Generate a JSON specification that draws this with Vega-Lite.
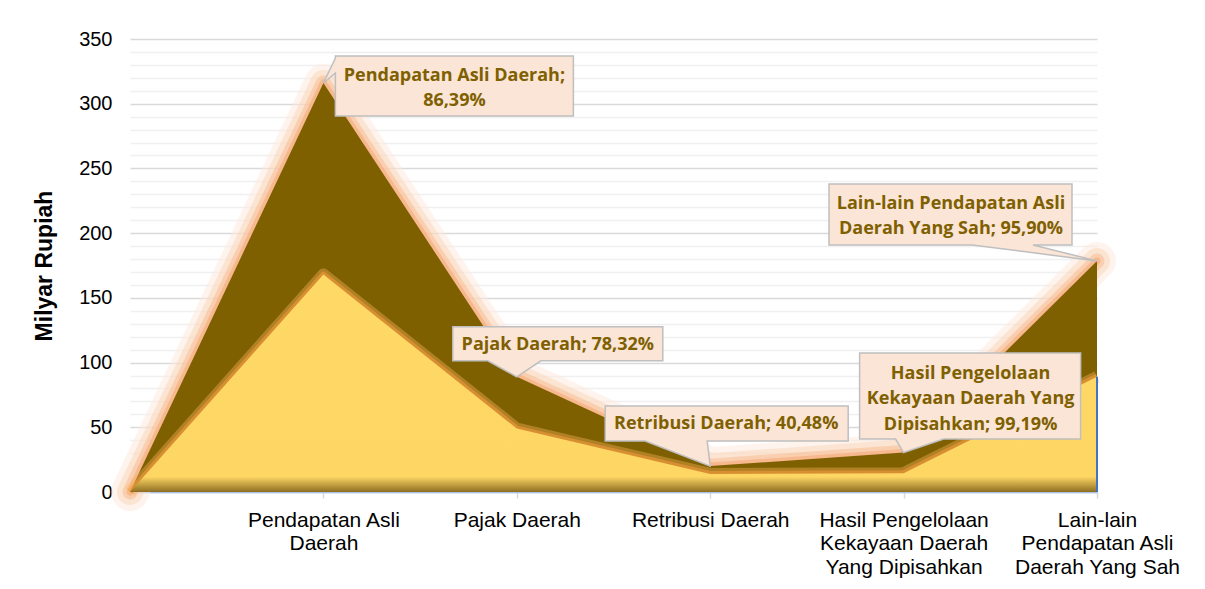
{
  "$schema": "https://vega.github.io/schema/vega-lite/v6.json",
  "width": 967,
  "height": 453,
  "autosize": "none",
  "padding": {"left": 130, "top": 39, "right": 108, "bottom": 97},
  "background": "white",
  "config": {
    "view": {"stroke": null},
    "font": "Liberation Sans"
  },
  "data": {
    "values": [
      {"kategori": " ", "target": 0, "realisasi": 0, "callout": ""},
      {"kategori": "Pendapatan Asli Daerah", "target": 316, "realisasi": 168, "callout": "Pendapatan Asli Daerah;\n86,39%"},
      {"kategori": "Pajak Daerah", "target": 89, "realisasi": 49, "callout": "Pajak Daerah; 78,32%"},
      {"kategori": "Retribusi Daerah", "target": 20, "realisasi": 14, "callout": "Retribusi Daerah; 40,48%"},
      {"kategori": "Hasil Pengelolaan Kekayaan Daerah Yang Dipisahkan", "target": 30.5, "realisasi": 14.5, "callout": "Hasil Pengelolaan\nKekayaan Daerah Yang\nDipisahkan; 99,19%"},
      {"kategori": "Lain-lain Pendapatan Asli Daerah Yang Sah", "target": 178.5, "realisasi": 89, "callout": "Lain-lain Pendapatan Asli\nDaerah Yang Sah; 95,90%"}
    ]
  },
  "encoding": {
    "x": {
      "field": "kategori",
      "type": "nominal",
      "sort": null,
      "scale": {"type": "point", "padding": 0, "domain": [" ", "Pendapatan Asli Daerah", "Pajak Daerah", "Retribusi Daerah", "Hasil Pengelolaan Kekayaan Daerah Yang Dipisahkan", "Lain-lain Pendapatan Asli Daerah Yang Sah"]},
      "title": null,
      "axis": {
        "labelAngle": 0,
        "labelFont": "Liberation Sans",
        "labelFontSize": 21,
        "labelColor": "#000000",
        "labelLineHeight": 23.5,
        "labelPadding": 11,
        "labelAlign": "center",
        "labelBaseline": "top",
        "labelLimit": 300,
        "tickColor": "#D9D9D9",
        "tickSize": 6,
        "tickWidth": 1.5,
        "domainColor": "#A9BFE3",
        "domainWidth": 1.5,
        "grid": false,
        "labelExpr": "datum.value == 'Pendapatan Asli Daerah' ? ['Pendapatan Asli', 'Daerah'] : datum.value == 'Hasil Pengelolaan Kekayaan Daerah Yang Dipisahkan' ? ['Hasil Pengelolaan', 'Kekayaan Daerah', 'Yang Dipisahkan'] : datum.value == 'Lain-lain Pendapatan Asli Daerah Yang Sah' ? ['Lain-lain', 'Pendapatan Asli', 'Daerah Yang Sah'] : datum.value"
      }
    },
    "y": {
      "field": "target",
      "type": "quantitative",
      "stack": null,
      "title": "Milyar Rupiah",
      "scale": {"domain": [0, 350], "nice": false},
      "axis": {
        "values": [0, 10, 20, 30, 40, 50, 60, 70, 80, 90, 100, 110, 120, 130, 140, 150, 160, 170, 180, 190, 200, 210, 220, 230, 240, 250, 260, 270, 280, 290, 300, 310, 320, 330, 340, 350],
        "labelExpr": "datum.value % 50 === 0 ? datum.label : ''",
        "labelOverlap": false,
        "gridColor": {"condition": {"test": "datum.value % 50 === 0", "value": "#D9D9D9"}, "value": "#F0F0F0"},
        "gridWidth": 1.5,
        "ticks": false,
        "tickSize": 0,
        "domain": false,
        "labelFont": "Liberation Sans",
        "labelFontSize": 20,
        "labelColor": "#000000",
        "labelPadding": 18,
        "titleFont": "Liberation Sans",
        "titleFontSize": 23,
        "titleFontWeight": "bold",
        "titleColor": "#000000",
        "titlePadding": 22
      }
    }
  },
  "layer": [
    {
      "mark": {"type": "line", "color": "#FDE9DC", "strokeWidth": 38, "opacity": 0.5, "strokeJoin": "round", "strokeCap": "round"}
    },
    {
      "mark": {"type": "line", "color": "#FAD0B2", "strokeWidth": 26, "opacity": 0.45, "strokeJoin": "round", "strokeCap": "round"}
    },
    {
      "mark": {"type": "line", "color": "#F7B98E", "strokeWidth": 15, "opacity": 0.5, "strokeJoin": "round", "strokeCap": "round"}
    },
    {
      "mark": {"type": "line", "color": "#F4A673", "strokeWidth": 7, "opacity": 0.55, "strokeJoin": "round", "strokeCap": "round"}
    },
    {
      "mark": {"type": "area", "color": "#7F6000", "line": false}
    },
    {
      "mark": {"type": "line", "color": "#F8B45A", "strokeWidth": 12, "opacity": 0.4, "strokeJoin": "round"},
      "encoding": {"y": {"field": "realisasi", "type": "quantitative", "title": "Milyar Rupiah"}}
    },
    {
      "mark": {"type": "line", "color": "#F29A3A", "strokeWidth": 6, "opacity": 0.6, "strokeJoin": "round"},
      "encoding": {"y": {"field": "realisasi", "type": "quantitative", "title": "Milyar Rupiah"}}
    },
    {
      "mark": {
        "type": "area",
        "line": false,
        "color": {
          "gradient": "linear",
          "x1": 0, "y1": 0, "x2": 0, "y2": 1,
          "stops": [
            {"offset": 0, "color": "#FFD966"},
            {"offset": 0.93, "color": "#FDD664"},
            {"offset": 1, "color": "#8E6E22"}
          ]
        }
      },
      "encoding": {"y": {"field": "realisasi", "type": "quantitative", "stack": null, "title": "Milyar Rupiah"}}
    },
    {
      "transform": [{"filter": "datum.kategori == 'Lain-lain Pendapatan Asli Daerah Yang Sah'"}],
      "mark": {"type": "rule", "color": "#4472C4", "strokeWidth": 2},
      "encoding": {"y": {"field": "realisasi", "type": "quantitative", "title": "Milyar Rupiah"}, "y2": {"datum": 0}}
    },
    {
      "transform": [{"filter": "datum.kategori == 'Pendapatan Asli Daerah'"}],
      "mark": {"type": "point", "filled": true, "fill": "#FBE5D6", "stroke": "#BFBFBF", "strokeWidth": 1.5, "opacity": 1, "size": 40000, "shape": "M0,0L0.12,-0.10L0.12,0.33L2.50,0.33L2.50,-0.27L0.12,-0.27L0.12,-0.25Z"}
    },
    {
      "transform": [{"filter": "datum.kategori == 'Pendapatan Asli Daerah'"}],
      "mark": {"type": "text", "font": "Open Sans", "fontWeight": "bold", "fontSize": 18, "color": "#7F6000", "align": "center", "baseline": "alphabetic", "lineBreak": "\n", "lineHeight": 25, "dx": 131, "dy": -2},
      "encoding": {"text": {"field": "callout"}}
    },
    {
      "transform": [{"filter": "datum.kategori == 'Pajak Daerah'"}],
      "mark": {"type": "point", "filled": true, "fill": "#FBE5D6", "stroke": "#BFBFBF", "strokeWidth": 1.5, "opacity": 1, "size": 40000, "shape": "M0,0L0.24,-0.16L1.46,-0.16L1.46,-0.50L-0.64,-0.50L-0.64,-0.16L-0.29,-0.16Z"}
    },
    {
      "transform": [{"filter": "datum.kategori == 'Pajak Daerah'"}],
      "mark": {"type": "text", "font": "Open Sans", "fontWeight": "bold", "fontSize": 18, "color": "#7F6000", "align": "center", "baseline": "alphabetic", "lineBreak": "\n", "lineHeight": 25, "dx": 41, "dy": -27},
      "encoding": {"text": {"field": "callout"}}
    },
    {
      "transform": [{"filter": "datum.kategori == 'Retribusi Daerah'"}],
      "mark": {"type": "point", "filled": true, "fill": "#FBE5D6", "stroke": "#BFBFBF", "strokeWidth": 1.5, "opacity": 1, "size": 40000, "shape": "M0,0L-0.03,-0.25L1.38,-0.25L1.38,-0.60L-1.05,-0.60L-1.05,-0.25L-0.65,-0.25Z"}
    },
    {
      "transform": [{"filter": "datum.kategori == 'Retribusi Daerah'"}],
      "mark": {"type": "text", "font": "Open Sans", "fontWeight": "bold", "fontSize": 18, "color": "#7F6000", "align": "center", "baseline": "alphabetic", "lineBreak": "\n", "lineHeight": 25, "dx": 16, "dy": -37},
      "encoding": {"text": {"field": "callout"}}
    },
    {
      "transform": [{"filter": "datum.kategori == 'Hasil Pengelolaan Kekayaan Daerah Yang Dipisahkan'"}],
      "mark": {"type": "point", "filled": true, "fill": "#FBE5D6", "stroke": "#BFBFBF", "strokeWidth": 1.5, "opacity": 1, "size": 40000, "shape": "M0,0L0.40,-0.135L1.77,-0.135L1.77,-0.995L-0.44,-0.995L-0.44,-0.135L-0.08,-0.135Z"}
    },
    {
      "transform": [{"filter": "datum.kategori == 'Hasil Pengelolaan Kekayaan Daerah Yang Dipisahkan'"}],
      "mark": {"type": "text", "font": "Open Sans", "fontWeight": "bold", "fontSize": 18, "color": "#7F6000", "align": "center", "baseline": "alphabetic", "lineBreak": "\n", "lineHeight": 25.5, "dx": 67, "dy": -74},
      "encoding": {"text": {"field": "callout"}}
    },
    {
      "transform": [{"filter": "datum.kategori == 'Lain-lain Pendapatan Asli Daerah Yang Sah'"}],
      "mark": {"type": "point", "filled": true, "fill": "#FBE5D6", "stroke": "#BFBFBF", "strokeWidth": 1.5, "opacity": 1, "size": 40000, "shape": "M0,0L-0.64,-0.16L-0.25,-0.16L-0.25,-0.77L-2.68,-0.77L-2.68,-0.16L-1.25,-0.16Z"}
    },
    {
      "transform": [{"filter": "datum.kategori == 'Lain-lain Pendapatan Asli Daerah Yang Sah'"}],
      "mark": {"type": "text", "font": "Open Sans", "fontWeight": "bold", "fontSize": 18, "color": "#7F6000", "align": "center", "baseline": "alphabetic", "lineBreak": "\n", "lineHeight": 25, "dx": -146, "dy": -52},
      "encoding": {"text": {"field": "callout"}}
    }
  ]
}
